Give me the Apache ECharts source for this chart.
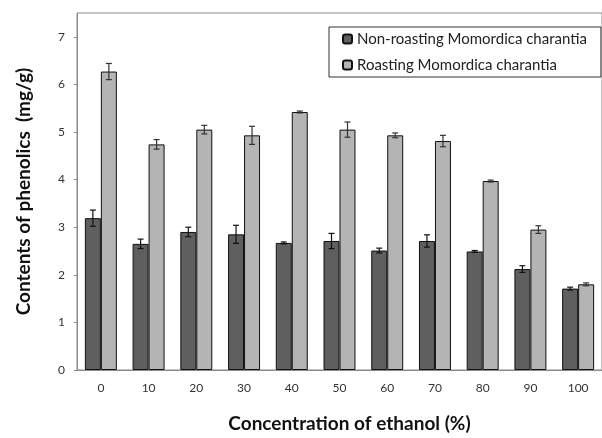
<!DOCTYPE html>
<html>
<head>
<meta charset="utf-8">
<script src="https://cdn.jsdelivr.net/npm/echarts@6/dist/echarts.min.js"></script>
<style>
  html, body { margin: 0; padding: 0; background: #fff; }
  #container { width: 602px; height: 438px; }
</style>
</head>
<body>
<div id="container"></div>
<script>
// concentration of ethanol (%)
const categories = ['0', '10', '20', '30', '40', '50', '60', '70', '80', '90', '100'];

const nonRoasting = [3.19, 2.65, 2.90, 2.85, 2.67, 2.71, 2.51, 2.71, 2.49, 2.12, 1.71];
const nonRoastingErr = [0.17, 0.10, 0.10, 0.19, 0.02, 0.16, 0.05, 0.13, 0.02, 0.07, 0.03];

const roasting = [6.27, 4.74, 5.05, 4.93, 5.42, 5.05, 4.93, 4.81, 3.97, 2.95, 1.80];
const roastingErr = [0.17, 0.10, 0.09, 0.19, 0.02, 0.16, 0.05, 0.12, 0.02, 0.08, 0.03];

const seriesNames = ['Non-roasting Momordica charantia', 'Roasting Momordica charantia'];

const CAT_GAP = 0.33;

function errorBars(values, errs, side, color) {
    return {
        type: 'custom',
        silent: true,
        z: 10,
        data: values.map((v, i) => [i, v, errs[i]]),
        renderItem: function (params, api) {
            const i = api.value(0);
            const v = api.value(1);
            const e = api.value(2);
            const band = api.size([1, 0])[0];
            const barW = band * (1 - CAT_GAP) / 2;
            const x = api.coord([i, v])[0] + side * barW / 2;
            const yHi = api.coord([i, v + e])[1];
            const yLo = api.coord([i, v - e])[1];
            const cap = 3;
            const style = { stroke: color, lineWidth: 1.2 };
            return {
                type: 'group',
                children: [
                    { type: 'line', shape: { x1: x, y1: yHi, x2: x, y2: yLo }, style: style },
                    { type: 'line', shape: { x1: x - cap, y1: yHi, x2: x + cap, y2: yHi }, style: style },
                    { type: 'line', shape: { x1: x - cap, y1: yLo, x2: x + cap, y2: yLo }, style: style }
                ]
            };
        }
    };
}

const chart = echarts.init(document.getElementById('container'), null, { renderer: 'canvas' });

const option = {
    animation: false,
    backgroundColor: '#fff',
    textStyle: { fontFamily: 'Lato, "Open Sans", sans-serif' },
    grid: {
        left: 77,
        top: 13,
        right: -5,
        bottom: 66,
        show: true,
        borderColor: '#8a8a8a',
        borderWidth: 1
    },
    legend: {
        data: seriesNames,
        orient: 'vertical',
        left: 329,
        top: 27,
        itemWidth: 9,
        itemHeight: 9,
        itemGap: 8,
        padding: [3, 14, 3, 13],
        borderColor: '#333',
        borderWidth: 1,
        backgroundColor: '#fff',
        textStyle: { fontSize: 15, lineHeight: 18, color: '#222', fontFamily: 'Lato, "Open Sans", sans-serif' }
    },
    xAxis: {
        type: 'category',
        data: categories,
        name: 'Concentration of ethanol (%)',
        nameLocation: 'middle',
        nameGap: 44,
        nameTextStyle: { fontSize: 19, fontWeight: 'bold', color: '#111', padding: [0, 0, 0, 20] },
        axisLine: { lineStyle: { color: '#8a8a8a' } },
        axisTick: { show: false },
        axisLabel: { color: '#333', fontSize: 12, margin: 12 }
    },
    yAxis: {
        type: 'value',
        min: 0,
        max: 7.5,
        interval: 1,
        name: 'Contents of phenolics  (mg/g)',
        nameLocation: 'middle',
        nameGap: 44,
        nameTextStyle: { fontSize: 19, fontWeight: 'bold', color: '#111' },
        axisLine: { show: true, lineStyle: { color: '#8a8a8a' } },
        axisTick: { show: true, length: 3, lineStyle: { color: '#8a8a8a' } },
        splitLine: { show: false },
        axisLabel: { color: '#333', fontSize: 12, margin: 12, showMaxLabel: false }
    },
    series: [
        {
            name: seriesNames[0],
            type: 'bar',
            data: nonRoasting,
            barGap: '0%',
            barCategoryGap: (CAT_GAP * 100) + '%',
            itemStyle: { color: '#5f5f5f', borderColor: '#111', borderWidth: 1 }
        },
        {
            name: seriesNames[1],
            type: 'bar',
            data: roasting,
            barGap: '0%',
            barCategoryGap: (CAT_GAP * 100) + '%',
            itemStyle: { color: '#b4b4b4', borderColor: '#111', borderWidth: 1 }
        },
        errorBars(nonRoasting, nonRoastingErr, -1, '#111'),
        errorBars(roasting, roastingErr, 1, '#333')
    ]
};

chart.setOption(option);
window.addEventListener('resize', () => chart.resize());
</script>
</body>
</html>
